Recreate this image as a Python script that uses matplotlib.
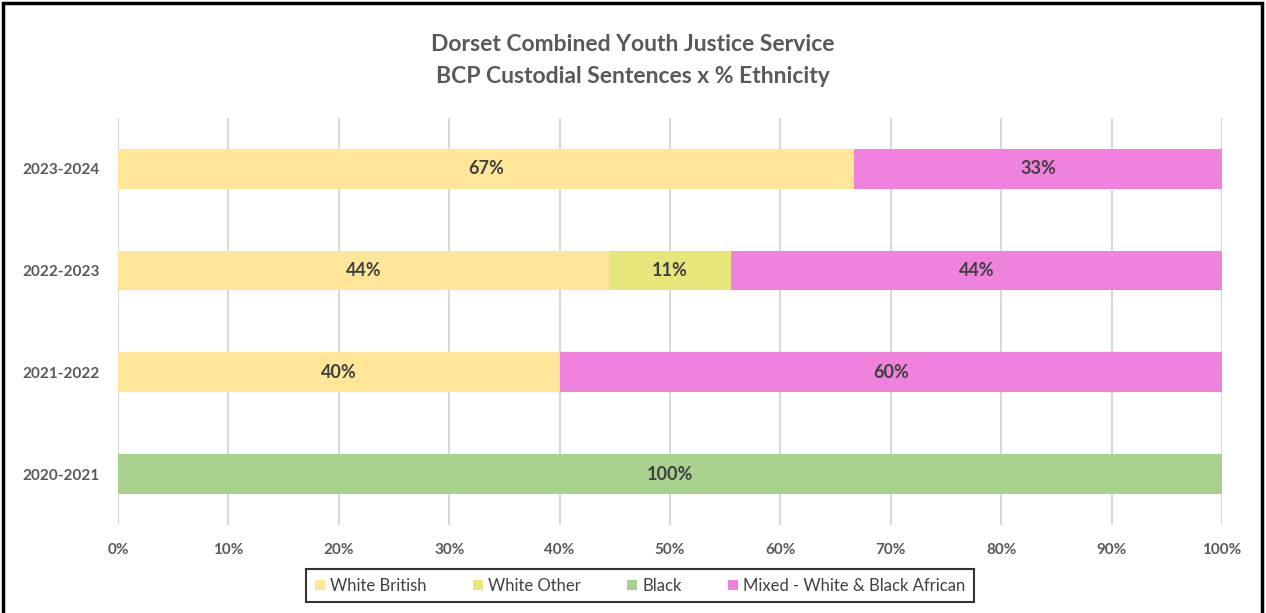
import matplotlib.pyplot as plt
from matplotlib.patches import Rectangle
import numpy as np

plt.rcParams['font.family'] = ['Lato', 'DejaVu Sans']

# Years (bottom to top) and share of custodial sentences by ethnicity (%)
years = ["2020-2021", "2021-2022", "2022-2023", "2023-2024"]
white_british = [0, 40, 44.44, 66.67]
white_other = [0, 0, 11.11, 0]
black = [100, 0, 0, 0]
mixed = [0, 60, 44.44, 33.33]

series = ["White British", "White Other", "Black", "Mixed - White & Black African"]
colors = ["#FFE699", "#E6E67A", "#A9D18E", "#EE82DC"]
text_col = "#404040"

fig = plt.figure(figsize=(12.66, 6.13), dpi=100)
ax = fig.add_axes([0.0932, 0.1436, 0.872, 0.664])

y = np.arange(len(years))
left = np.zeros(len(years))
for name, vals, col in zip(series, [white_british, white_other, black, mixed], colors):
    vals = np.array(vals)
    ax.barh(y, vals, left=left, height=0.39, color=col, label=name, zorder=2)
    for i, v in enumerate(vals):
        if v > 0:
            ax.text(left[i] + v / 2, y[i], f"{v:.0f}%", ha='center', va='center',
                    fontsize=13, fontweight='bold', color=text_col, zorder=3)
    left += vals

ax.set_xlim(0, 100)
ax.set_ylim(-0.5, 3.5)
ax.set_xticks(np.arange(0, 101, 10))
ax.set_xticklabels([f"{t}%" for t in range(0, 101, 10)])
ax.set_yticks(y)
ax.set_yticklabels(years)
ax.tick_params(length=0, labelsize=11, labelcolor="#595959", pad=13)
for lbl in ax.get_xticklabels() + ax.get_yticklabels():
    lbl.set_fontweight('bold')
ax.grid(axis='x', color='#D9D9D9', linewidth=1.5, zorder=0)
for s in ax.spines.values():
    s.set_visible(False)

fig.suptitle("Dorset Combined Youth Justice Service\nBCP Custodial Sentences x % Ethnicity",
             y=0.945, fontsize=16.5, fontweight='bold', color="#595959", linespacing=1.65)

leg = fig.legend(loc='center', bbox_to_anchor=(0.5055, 0.0445), ncol=4, frameon=True,
                 fontsize=12, handlelength=0.6, handleheight=0.6, handletextpad=0.3,
                 columnspacing=2.8, fancybox=False, borderpad=0.5)
leg.get_frame().set_edgecolor('black')
leg.get_frame().set_linewidth(1.5)
for t in leg.get_texts():
    t.set_color("#404040")

# outer chart border
fig.patches.append(Rectangle((0.002, -0.01), 0.995, 1.005, transform=fig.transFigure,
                             fill=False, edgecolor='black', linewidth=2.5))

fig.savefig("out.png", dpi=100)
